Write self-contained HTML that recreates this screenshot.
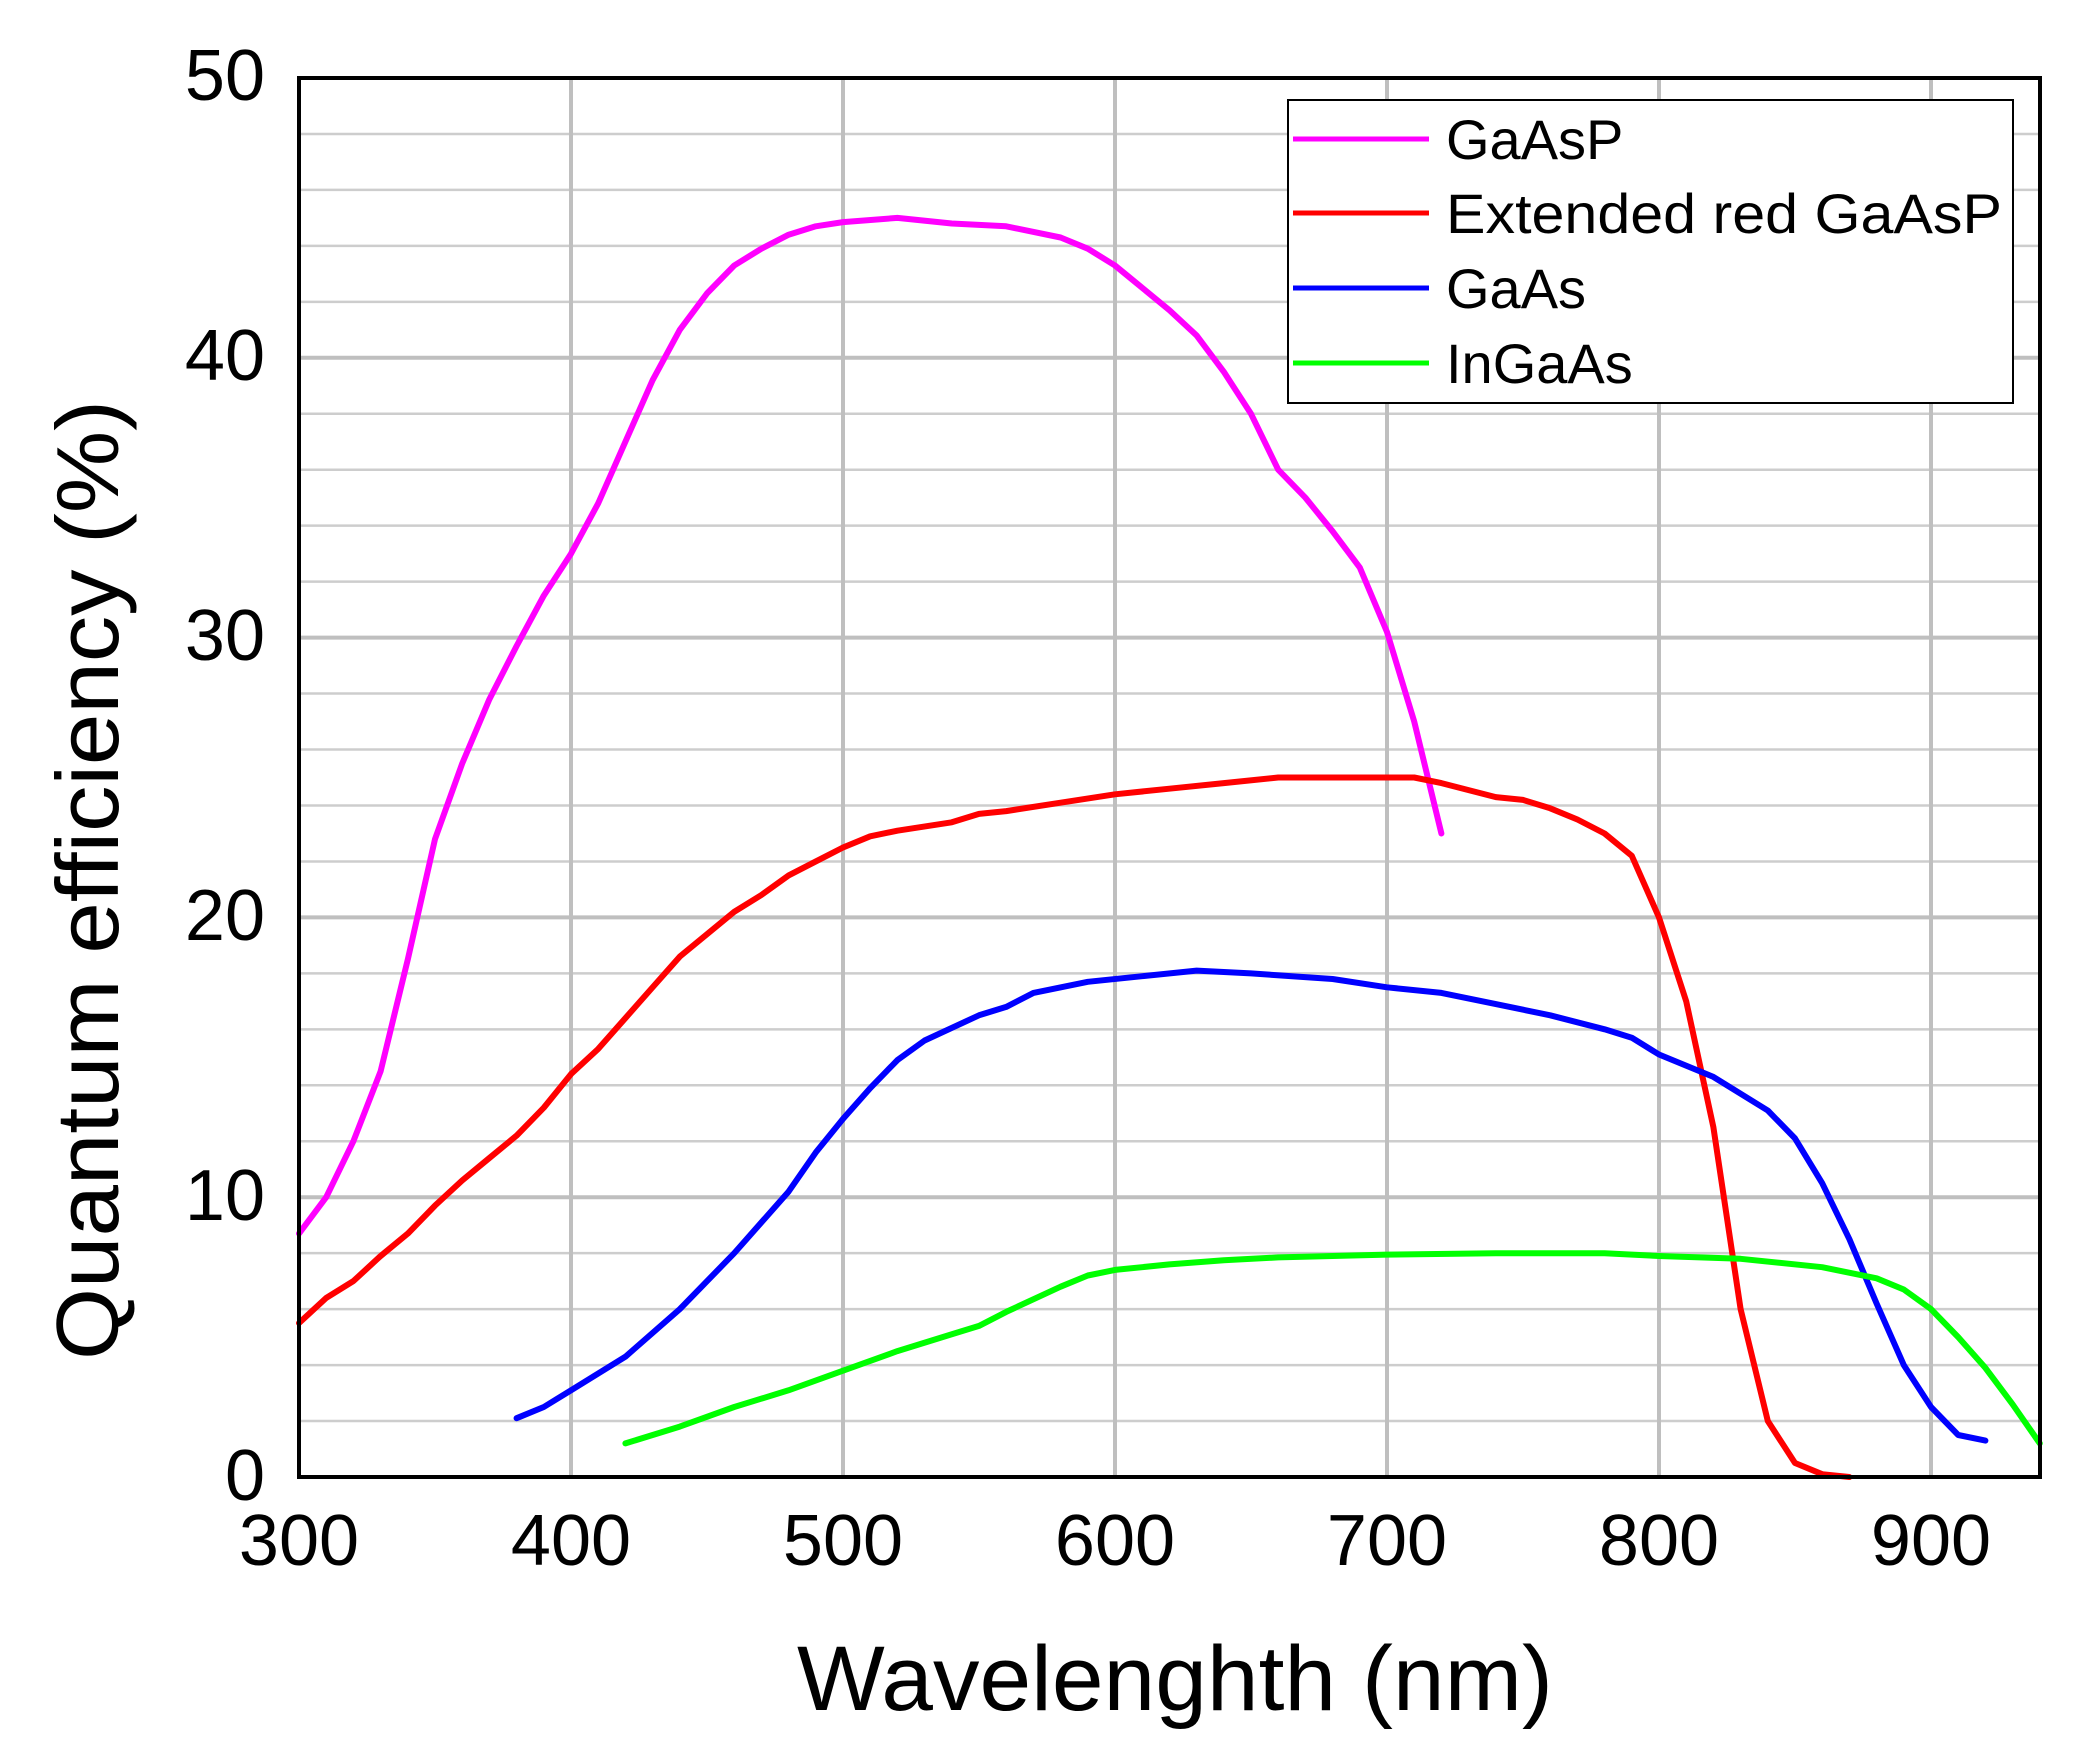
<!DOCTYPE html>
<html><head><meta charset="utf-8"><style>html,body{margin:0;padding:0;background:#fff;width:2080px;height:1740px;overflow:hidden}</style></head>
<body>
<svg id="s" width="2080" height="1740" xmlns="http://www.w3.org/2000/svg" font-family="Liberation Sans, sans-serif">
<rect width="2080" height="1740" fill="#fff"/>
<g id="grid"></g>
<g id="series" fill="none" stroke-width="6" stroke-linejoin="round" stroke-linecap="round"></g>
<rect x="299" y="78" width="1741" height="1399" fill="none" stroke="#000" stroke-width="4"/>
<g font-size="72" text-anchor="end" fill="#000">
<text x="265" y="100">50</text><text x="265" y="380">40</text><text x="265" y="660">30</text>
<text x="265" y="940">20</text><text x="265" y="1220">10</text><text x="265" y="1500">0</text>
</g>
<g font-size="72" text-anchor="middle" fill="#000">
<text x="299" y="1565">300</text><text x="571" y="1565">400</text><text x="843" y="1565">500</text>
<text x="1115" y="1565">600</text><text x="1387" y="1565">700</text><text x="1659" y="1565">800</text><text x="1931" y="1565">900</text>
</g>
<text x="797" y="1710" font-size="92" textLength="756" lengthAdjust="spacingAndGlyphs">Wavelenghth (nm)</text>
<text transform="translate(118,1360) rotate(-90)" font-size="88" textLength="960" lengthAdjust="spacingAndGlyphs">Quantum efficiency (%)</text>
<rect x="1288" y="100" width="725" height="303" fill="#fff" stroke="#000" stroke-width="2"/>
<g stroke-width="5">
<line x1="1293" y1="139" x2="1429" y2="139" stroke="#ff00ff"/>
<line x1="1293" y1="213" x2="1429" y2="213" stroke="#ff0000"/>
<line x1="1293" y1="288" x2="1429" y2="288" stroke="#0000ff"/>
<line x1="1293" y1="363" x2="1429" y2="363" stroke="#00ff00"/>
</g>
<g font-size="56" fill="#000">
<text x="1446" y="159">GaAsP</text>
<text x="1446" y="233" textLength="556" lengthAdjust="spacingAndGlyphs">Extended red GaAsP</text>
<text x="1446" y="308">GaAs</text>
<text x="1446" y="383">InGaAs</text>
</g>
</svg>
<script>
var NS="http://www.w3.org/2000/svg";
function X(n){return 299+(n-300)*2.72}
function Y(v){return 1477-v*27.98}
var g=document.getElementById('grid');
function ln(x1,y1,x2,y2,w,c){var l=document.createElementNS(NS,'line');l.setAttribute('x1',x1);l.setAttribute('y1',y1);l.setAttribute('x2',x2);l.setAttribute('y2',y2);l.setAttribute('stroke',c);l.setAttribute('stroke-width',w);g.appendChild(l);}
for(var v=2;v<50;v+=2){ln(299,Y(v),2040,Y(v),v%10==0?4:2.5,v%10==0?'#bfbfbf':'#cdcdcd');}
for(var n=400;n<=900;n+=100){ln(X(n),78,X(n),1477,4,'#bfbfbf');}
var D={
'#ff00ff':[[300,8.7],[310,10],[320,12],[330,14.5],[340,18.5],[350,22.8],[360,25.5],[370,27.8],[380,29.7],[390,31.5],[400,33],[410,34.8],[420,37],[430,39.2],[440,41],[450,42.3],[460,43.3],[470,43.9],[480,44.4],[490,44.7],[500,44.85],[520,45],[540,44.8],[560,44.7],[580,44.3],[590,43.9],[600,43.3],[610,42.5],[620,41.7],[630,40.8],[640,39.5],[650,38],[660,36],[670,35],[680,33.8],[690,32.5],[700,30.2],[710,27],[720,23]],
'#ff0000':[[300,5.5],[310,6.4],[320,7],[330,7.9],[340,8.7],[350,9.7],[360,10.6],[370,11.4],[380,12.2],[390,13.2],[400,14.4],[410,15.3],[420,16.4],[430,17.5],[440,18.6],[450,19.4],[460,20.2],[470,20.8],[480,21.5],[490,22],[500,22.5],[510,22.9],[520,23.1],[540,23.4],[550,23.7],[560,23.8],[580,24.1],[600,24.4],[620,24.6],[640,24.8],[660,25],[680,25],[700,25],[710,25],[720,24.8],[740,24.3],[750,24.2],[760,23.9],[770,23.5],[780,23],[790,22.2],[800,20],[810,17],[820,12.5],[830,6],[840,2],[850,0.5],[860,0.1],[870,0]],
'#0000ff':[[380,2.1],[390,2.5],[400,3.1],[420,4.3],[440,6],[460,8],[480,10.2],[490,11.6],[500,12.8],[510,13.9],[520,14.9],[530,15.6],[550,16.5],[560,16.8],[570,17.3],[590,17.7],[610,17.9],[630,18.1],[650,18],[680,17.8],[700,17.5],[720,17.3],[740,16.9],[760,16.5],[780,16],[790,15.7],[800,15.1],[820,14.3],[840,13.1],[850,12.1],[860,10.5],[870,8.5],[880,6.2],[890,4],[900,2.5],[910,1.5],[920,1.3]],
'#00ff00':[[420,1.2],[440,1.8],[460,2.5],[480,3.1],[500,3.8],[520,4.5],[540,5.1],[550,5.4],[560,5.9],[580,6.8],[590,7.2],[600,7.4],[620,7.6],[640,7.75],[660,7.85],[700,7.95],[740,8],[780,8],[800,7.9],[830,7.8],[860,7.5],[880,7.1],[890,6.7],[900,6],[910,5],[920,3.9],[930,2.6],[940,1.2]]};
var s=document.getElementById('series');
for(var c in D){var p=document.createElementNS(NS,'polyline');p.setAttribute('points',D[c].map(function(q){return X(q[0]).toFixed(1)+','+Y(q[1]).toFixed(1)}).join(' '));p.setAttribute('stroke',c);s.appendChild(p);}
</script>
</body></html>
